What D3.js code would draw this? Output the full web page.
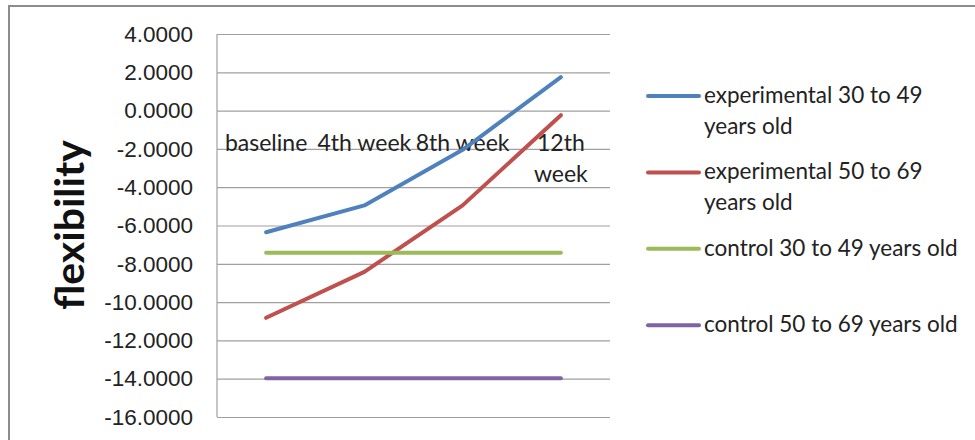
<!DOCTYPE html>
<html>
<head>
<meta charset="utf-8">
<script src="https://cdn.jsdelivr.net/npm/d3@7"></script>
<style>
  body { margin: 0; background: #fff; }
  svg { display: block; font-family: Lato, "Open Sans", sans-serif; }
</style>
</head>
<body>
<svg></svg>
<script>
const categories = ["baseline", "4th week", "8th week", "12th week"];
const seriesNames = [
    "experimental 30 to 49 years old",
    "experimental 50 to 69 years old",
    "control 30 to 49 years old",
    "control 50 to 69 years old"
];
// legend text as excel wrapped it
const legendLines = [
    ["experimental 30 to 49", "years old"],
    ["experimental 50 to 69", "years old"],
    ["control 30 to 49 years old"],
    ["control 50 to 69 years old"]
];
const expYoung = [-6.35, -4.95, -2.05, 1.75];
const expOld = [-10.82, -8.42, -4.95, -0.24];
const ctrlYoung = [-7.42, -7.42, -7.42, -7.42];
const ctrlOld = [-13.98, -13.98, -13.98, -13.98];
const yTicks = [4, 2, 0, -2, -4, -6, -8, -10, -12, -14, -16];
const colors = ["#4f81bd", "#c0504d", "#9bbb59", "#8064a2"];

const allSeries = [expYoung, expOld, ctrlYoung, ctrlOld];

const svg = d3.select("svg");
const svg_width = 975;
const svg_height = 440;
svg.attr("width", svg_width).attr("height", svg_height);

// chart frame (runs off the right and bottom edge in the original)
svg.append("rect")
    .attr("x", 9)
    .attr("y", 6)
    .attr("width", 1000)
    .attr("height", 500)
    .attr("fill", "none")
    .attr("stroke", "#8c8c8c")
    .attr("stroke-width", 2);

const plot = { left: 217, right: 610, top: 34, bottom: 417 };

const x = d3.scalePoint()
    .domain(categories)
    .range([plot.left, plot.right])
    .padding(0.5);

const y = d3.scaleLinear()
    .domain([-16, 4])
    .range([plot.bottom, plot.top]);

// gridlines + tick labels
const yAxis = svg.append("g")
    .attr("transform", `translate(${plot.left},0)`)
    .call(d3.axisLeft(y)
        .tickValues(yTicks)
        .tickSize(-(plot.right - plot.left))
        .tickPadding(24)
        .tickFormat(d => d.toFixed(4)));
yAxis.select(".domain").remove();
yAxis.selectAll(".tick line")
    .attr("stroke", "#a0a0a0")
    .attr("stroke-width", 1.2);
yAxis.selectAll(".tick text")
    .attr("fill", "#222")
    .attr("font-size", 22.5);

// vertical axis line
svg.append("line")
    .attr("x1", plot.left).attr("x2", plot.left)
    .attr("y1", plot.top).attr("y2", plot.bottom)
    .attr("stroke", "#a0a0a0")
    .attr("stroke-width", 1.2);

// axis title
svg.append("text")
    .attr("transform", "translate(84,225) rotate(-90)")
    .attr("text-anchor", "middle")
    .attr("font-size", 41)
    .attr("font-weight", "bold")
    .attr("fill", "#111")
    .text("flexibility");

// category labels, they sit near the zero line like excel does
const catGroup = svg.append("g");
categories.forEach(c => {
    const words = c.split(" ");
    const lines = c.length > 8 ? [words[0], words.slice(1).join(" ")] : [c];
    const t = catGroup.append("text")
        .attr("text-anchor", "middle")
        .attr("font-size", 23)
        .attr("fill", "#222");
    lines.forEach((ln, i) => {
        t.append("tspan")
            .attr("x", x(c))
            .attr("y", y(0) + 40 + i * 31)
            .text(ln);
    });
});

// series
const line = d3.line()
    .x((d, i) => x(categories[i]))
    .y(d => y(d));

svg.append("g")
    .selectAll("path")
    .data(allSeries)
    .join("path")
    .attr("d", d => line(d))
    .attr("fill", "none")
    .attr("stroke", (d, i) => colors[i])
    .attr("stroke-width", 4)
    .attr("stroke-linecap", "round")
    .attr("stroke-linejoin", "round");

// legend
const legend = svg.append("g");
seriesNames.forEach((name, i) => {
    const ly = 96 + i * 76.4;
    legend.append("line")
        .attr("x1", 648).attr("x2", 699)
        .attr("y1", ly).attr("y2", ly)
        .attr("stroke", colors[i])
        .attr("stroke-width", 4)
        .attr("stroke-linecap", "round");
    const t = legend.append("text")
        .attr("font-size", 22.5)
        .attr("fill", "#222");
    legendLines[i].forEach((ln, j) => {
        t.append("tspan")
            .attr("x", 704)
            .attr("y", ly + 7 + j * 31)
            .text(ln);
    });
});
</script>
</body>
</html>
